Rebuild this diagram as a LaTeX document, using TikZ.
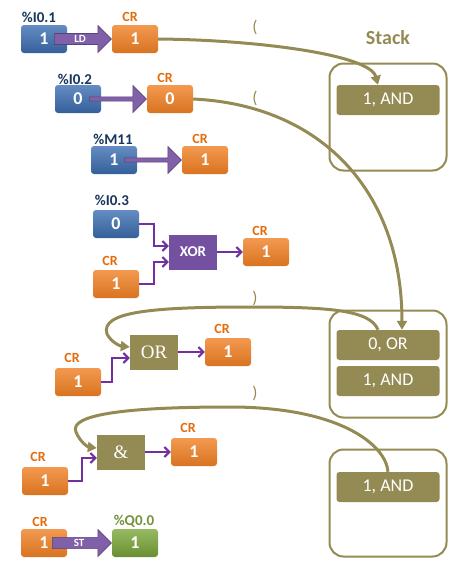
\documentclass[tikz,border=0pt]{standalone}
\usepackage{fontspec}
\setmainfont{Carlito}
\newfontfamily\gatefont{Liberation Serif}
\usepackage{xcolor}
\usetikzlibrary{positioning,arrows.meta,shapes.arrows}

\definecolor{plcblue}{RGB}{62,112,180}
\definecolor{plcorange}{RGB}{240,128,36}
\definecolor{plcgreen}{RGB}{124,168,58}
\definecolor{plcolive}{RGB}{148,138,84}
\definecolor{arrowpurple}{RGB}{128,96,168}
\definecolor{xorpurple}{RGB}{116,80,160}
\definecolor{wirepurple}{RGB}{112,48,160}
\definecolor{navy}{RGB}{23,54,93}
\definecolor{crorange}{RGB}{228,108,10}
\definecolor{qgreen}{RGB}{118,146,60}

\begin{document}
\begin{tikzpicture}[x=1pt, y=-1pt,
  bit/.style={rounded corners=3pt, minimum width=46pt, minimum height=28pt, inner sep=0pt,
              text=white, font=\fontsize{18}{18}\selectfont\bfseries},
  inbit/.style={bit, top color=plcblue!80!white, bottom color=plcblue!85!black},
  crbit/.style={bit, top color=plcorange!80!white, bottom color=plcorange!90!black},
  outbit/.style={bit, top color=plcgreen!80!white, bottom color=plcgreen!85!black},
  tagname/.style={font=\fontsize{15}{15}\selectfont\bfseries, text=navy, inner sep=0pt},
  crtag/.style={tagname, font=\fontsize{14}{14}\selectfont\bfseries, text=crorange},
  gatebox/.style={minimum width=48pt, minimum height=35pt, inner sep=0pt, text=white,
                  fill=plcolive, font=\gatefont\fontsize{19}{19}\selectfont},
  xorbox/.style={gatebox, fill=xorpurple, font=\fontsize{15}{15}\selectfont\bfseries},
  stackbox/.style={draw=plcolive, line width=2pt, rounded corners=14pt,
                   minimum width=117pt, minimum height=107pt},
  stackitem/.style={fill=plcolive, rounded corners=3pt, minimum width=103pt, minimum height=30pt,
                    inner sep=0pt, text=white, font=\fontsize{18}{18}\selectfont},
  paren/.style={text=plcolive, font=\fontsize{17}{17}\selectfont, inner sep=0pt},
  blockarrow/.style={single arrow, single arrow head extend=7pt, anchor=tip,
                     fill=arrowpurple, draw=arrowpurple!70!black, line width=0.6pt,
                     minimum height=57pt, minimum width=27pt, inner xsep=2pt, inner ysep=1pt,
                     text=white, font=\fontsize{11}{11}\selectfont\bfseries},
  wire/.style={draw=wirepurple, line width=2pt, -{Straight Barb[length=5pt,width=10pt]}},
  pull/.style={draw=plcolive, line width=3pt, -{Triangle[length=9pt,width=10pt]}}
]
\useasboundingbox (0,0) rectangle (457,571);

% stack
\node[tagname, text=plcolive, font=\fontsize{20}{20}\selectfont\bfseries] (stacklbl) at (388,38) {Stack};
\node[stackbox] (stk1) at (388,117) {};
\node[stackitem] (s1a) at (388,100) {1, AND};
\node[stackbox] (stk2) at (388,364) {};
\node[stackitem] (s2a) at (388,345) {0, OR};
\node[stackitem] (s2b) at (388,381) {1, AND};
\node[stackbox] (stk3) at (388,503) {};
\node[stackitem] (s3a) at (388,487) {1, AND};

% LD %I0.1
\node[inbit] (in1) at (44,39) {1};
\node[crbit] (cr1) at (135,39) {1};
\node[tagname] (in1tag) at (39,17) {\%I0.1};
\node[crtag] (cr1tag) at (130,17) {CR};
\node[blockarrow] (ld) at (cr1.west) {LD};

% AND( %I0.2
\node[inbit] (in2) at (78,99) {0};
\node[crbit] (cr2) at (170,99) {0};
\node[tagname] (in2tag) at (75,79) {\%I0.2};
\node[crtag] (cr2tag) at (165,78) {CR};
\node[blockarrow] (ld2) at (cr2.west) {};

% OR( %M11
\node[inbit] (in3) at (114,160) {1};
\node[crbit] (cr3) at (205,160) {1};
\node[tagname] (in3tag) at (113,139) {\%M11};
\node[crtag] (cr3tag) at (200,139) {CR};
\node[blockarrow] (ld3) at (cr3.west) {};

% XOR %I0.3
\node[inbit] (in4) at (116,224) {0};
\node[tagname] (in4tag) at (112,200) {\%I0.3};
\node[crbit] (cr4a) at (116,284) {1};
\node[crtag] (cr4atag) at (110,261) {CR};
\node[xorbox] (xor) at (193,252) {XOR};
\node[crbit] (cr4) at (266,252) {1};
\node[crtag] (cr4tag) at (260,231) {CR};
\draw[wire] (in4.east) -- ++(15,0) |- ([yshift=6pt]xor.west);
\draw[wire] (cr4a.east) -- ++(15,0) |- ([yshift=-10pt]xor.west);
\draw[wire] (xor) -- (cr4);

% )
\node[gatebox] (orgate) at (154,352) {OR};
\node[crbit] (cr5) at (228,352) {1};
\node[crtag] (cr5tag) at (222,329) {CR};
\node[crbit] (cr5a) at (78,382) {1};
\node[crtag] (cr5atag) at (72,358) {CR};
\draw[wire] (cr5a.east) -- ++(11,0) |- ([yshift=-6pt]orgate.west);
\draw[wire] (orgate) -- (cr5);

% )
\node[gatebox] (andgate) at (121,452) {\&};
\node[crbit] (cr6) at (194,452) {1};
\node[crtag] (cr6tag) at (188,428) {CR};
\node[crbit] (cr6a) at (45,481) {1};
\node[crtag] (cr6atag) at (38,457) {CR};
\draw[wire] (cr6a.east) -- ++(14,0) |- ([yshift=-6pt]andgate.west);
\draw[wire] (andgate) -- (cr6);

% ST %Q0.0
\node[crbit] (cr7) at (44,543) {1};
\node[crtag] (cr7tag) at (40,522) {CR};
\node[outbit] (q0) at (135,543) {1};
\node[tagname, text=qgreen] (q0tag) at (134,521) {\%Q0.0};
\node[blockarrow, minimum height=59pt] (st) at (q0.west) {ST};

\node[paren] (p1) at (255,27) {(};
\node[paren] (p2) at (255,98) {(};
\node[paren] (p3) at (255,298) {)};
\node[paren] (p4) at (255,393) {)};

% push / pop
\draw[pull] (cr1.east) .. controls (260,40) and (370,55) .. ([xshift=-10pt]s1a.north);
\draw[pull] (cr2.east) .. controls (320,105) and (402,190) .. ([xshift=14pt]s2a.north);
\draw[pull] ([xshift=-10pt]s2a.north) .. controls (370,310) and (330,307) .. (250,307)
  .. controls (150,307) and (100,312) .. (107,334)
  .. controls (111,342) and (120,346) .. ([yshift=5pt]orgate.west);
\draw[pull] (s3a.north) .. controls (386,445) and (340,407) .. (230,407)
  .. controls (130,407) and (68,414) .. (76,432)
  .. controls (80,442) and (88,447) .. ([yshift=4pt]andgate.west);

\end{tikzpicture}
\end{document}
